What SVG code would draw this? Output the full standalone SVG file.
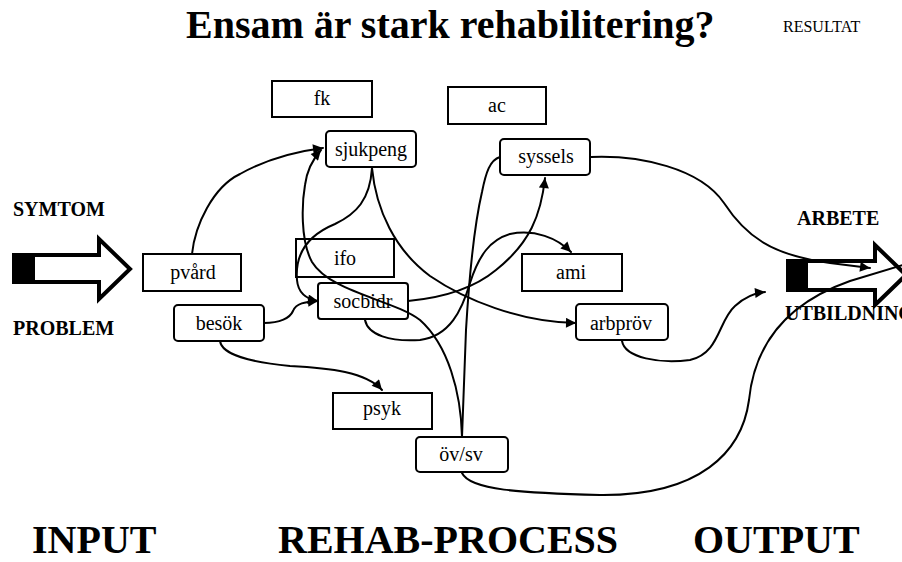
<svg xmlns="http://www.w3.org/2000/svg" width="902" height="562" viewBox="0 0 902 562">
  <defs>
    <marker id="ah" viewBox="0 0 10 10" refX="10" refY="5" markerWidth="12" markerHeight="10" markerUnits="userSpaceOnUse" orient="auto">
      <path d="M0,0 L10,5 L0,10 z" fill="#000"/>
    </marker>
  </defs>
  <style>
    text { font-family: "Liberation Serif", "Times New Roman", serif; fill: #000; }
    .t { font-family: "Liberation Serif", "Times New Roman", serif; font-size: 20px; text-anchor: middle; }
    .b { font-weight: bold; }
    .box { fill: #fff; stroke: #000; stroke-width: 2; }
    .c { fill: none; stroke: #000; stroke-width: 2; stroke-linecap: round; stroke-linejoin: round; }
    .ca { fill: none; stroke: #000; stroke-width: 2; stroke-linecap: round; marker-end: url(#ah); }
    .blk { fill: #fff; stroke: #000; stroke-width: 4; stroke-linejoin: miter; }
  </style>
  <rect width="902" height="562" fill="#fff"/>

  <!-- headings -->
  <text class="b" x="186" y="38" font-size="40">Ensam är stark rehabilitering?</text>
  <text x="783" y="32" font-size="16">RESULTAT</text>

  <text class="b" x="13" y="216" font-size="20">SYMTOM</text>
  <text class="b" x="13" y="335" font-size="20">PROBLEM</text>
  <text class="b" x="797" y="225" font-size="20">ARBETE</text>
  <text class="b" x="785" y="320" font-size="20">UTBILDNING</text>

  <text class="b" x="32" y="553" font-size="40">INPUT</text>
  <text class="b" x="278" y="553" font-size="40">REHAB-PROCESS</text>
  <text class="b" x="693" y="553" font-size="40">OUTPUT</text>

  <!-- block arrows: input and output -->
  <g id="in-arrow">
    <polygon class="blk" points="33,255 99,255 99,239 130,269 99,299 99,282 33,282"/>
    <rect x="12" y="253" width="23" height="31" fill="#000"/>
  </g>
  <g id="out-arrow">
    <polygon class="blk" points="806,261 875,261 875,245 906,275 875,305 875,290 806,290"/>
    <rect x="786" y="259" width="22" height="33" fill="#000"/>
  </g>

  <!-- nodes -->
  <g id="fk"><rect class="box" x="272" y="81" width="100" height="36"/><text class="t" x="322" y="105">fk</text></g>
  <g id="ac"><rect class="box" x="448" y="87" width="98" height="37"/><text class="t" x="497" y="112">ac</text></g>
  <g id="sjukpeng"><rect class="box" x="326" y="131" width="90" height="36" rx="4"/><text class="t" x="371" y="156">sjukpeng</text></g>
  <g id="syssels"><rect class="box" x="500" y="139" width="90" height="36" rx="4"/><text class="t" x="546" y="163">syssels</text></g>
  <g id="ifo"><rect class="box" x="296" y="239" width="98" height="38"/><text class="t" x="345" y="265">ifo</text></g>
  <g id="socbidr"><rect class="box" x="318" y="283" width="90" height="36" rx="3"/><text class="t" x="363" y="308">socbidr</text></g>
  <g id="pvard"><rect class="box" x="143" y="254" width="98" height="37"/><text class="t" x="193" y="279">pvård</text></g>
  <g id="besok"><rect class="box" x="174" y="305" width="90" height="36" rx="4"/><text class="t" x="219" y="330">besök</text></g>
  <g id="ami"><rect class="box" x="522" y="254" width="100" height="37"/><text class="t" x="571" y="279">ami</text></g>
  <g id="arbprov"><rect class="box" x="576" y="304" width="92" height="36" rx="4"/><text class="t" x="621" y="330">arbpröv</text></g>
  <g id="psyk"><rect class="box" x="333" y="393" width="99" height="36"/><text class="t" x="382" y="415">psyk</text></g>
  <g id="ovsv"><rect class="box" x="416" y="437" width="92" height="35" rx="4"/><text class="t" x="461" y="461">öv/sv</text></g>

  <!-- connectors -->
  <g id="connectors">
    <path class="ca" d="M192,254 C195,225 213,187 240,174 C265,160 292,152 323,148"/>
    <path class="ca" d="M462,437 C461,392 448,345 420,320 C394,300 330,292 312,262 C300,240 302,202 305,185 C307,170 312,160 321,150"/>
    <path class="c" d="M462,437 L466,330 C469,280 475,222 482,192 C486,172 490,160 500,157"/>
    <path class="ca" d="M372,168 C370,200 356,214 335,224 C306,236 295,256 297,280 C298,292 306,299 318,301"/>
    <path class="ca" d="M264,323 C280,323 290,318 293,311 C296,303 305,302 318,301"/>
    <path class="ca" d="M372,168 C376,210 395,250 430,276 C465,300 520,322 576,323"/>
    <path class="ca" d="M408,301 C440,298 472,290 496,270 C530,243 541,215 545,178"/>
    <path class="ca" d="M365,320 C368,335 390,342 420,340 C450,336 462,310 470,283 C479,255 490,240 510,234 C535,229 557,238 571,252"/>
    <path class="ca" d="M591,157 C640,155 700,168 724,203 C745,235 770,255 830,263 L870,268"/>
    <path class="ca" d="M622,341 C625,358 660,364 690,360 C720,353 718,321 735,306 C745,297 755,293 765,292"/>
    <path class="c" d="M462,473 C470,490 520,493 600,495 C700,496 742,452 749,400 C755,340 790,302 850,281 L903,265"/>
    <path class="ca" d="M220,341 C222,355 250,362 290,366 C330,368 366,372 382,390"/>
  </g>
</svg>
